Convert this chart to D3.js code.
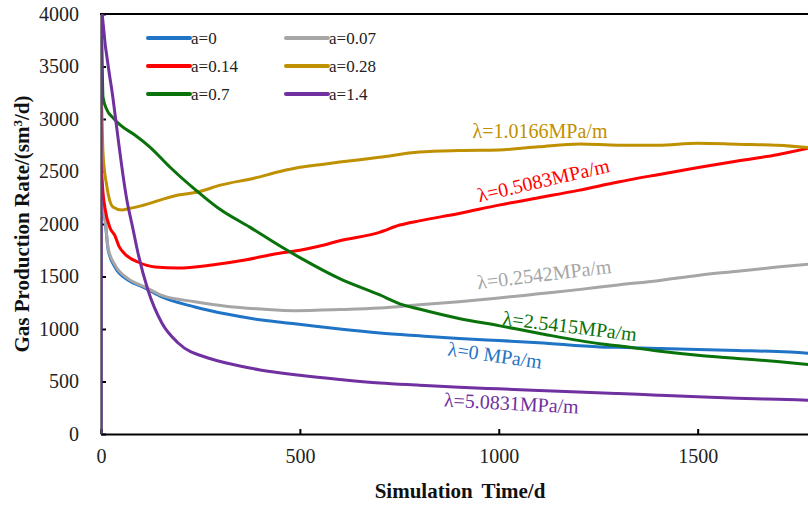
<!DOCTYPE html>
<html>
<head>
<meta charset="utf-8">
<script src="https://cdn.jsdelivr.net/npm/d3@7"></script>
<style>
  html, body { margin: 0; padding: 0; background: #fff; }
  svg { display: block; }
  text { font-family: "Liberation Serif", "Times New Roman", serif; }
</style>
</head>
<body>
<svg id="chart" width="808" height="506"></svg>
<script>
// Gas production rate (sm3/d) versus simulation time (d) for each a value
const time_a0 = [0, 5, 10, 18, 35, 68, 111, 153, 236, 319, 404, 487, 600, 701, 800, 900, 1000, 1100, 1254, 1300, 1400, 1500, 1600, 1700, 1800];
const rate_a0 = [2400, 2150, 2050, 1752, 1590, 1467, 1390, 1305, 1210, 1140, 1085, 1050, 1000, 962, 935, 910, 890, 870, 829, 825, 815, 805, 795, 785, 765];

const time_a007 = [0, 5, 10, 18, 35, 68, 111, 153, 236, 319, 404, 487, 600, 701, 800, 900, 1000, 1100, 1200, 1300, 1400, 1500, 1600, 1700, 1800];
const rate_a007 = [2300, 2150, 2050, 1770, 1610, 1480, 1400, 1320, 1260, 1215, 1190, 1175, 1185, 1200, 1230, 1260, 1295, 1335, 1375, 1420, 1460, 1510, 1550, 1590, 1625];

const time_a014 = [0, 5, 10, 23, 35, 45, 60, 93, 136, 194, 279, 362, 445, 500, 550, 600, 700, 751, 800, 900, 1000, 1100, 1200, 1300, 1400, 1505, 1600, 1700, 1800];
const rate_a014 = [2610, 2300, 2150, 1960, 1890, 1790, 1715, 1638, 1590, 1581, 1610, 1657, 1720, 1750, 1790, 1840, 1920, 1990, 2030, 2100, 2180, 2250, 2320, 2400, 2470, 2540, 2600, 2660, 2740];

const time_a028 = [0, 2, 5, 15, 30, 53, 68, 98, 194, 244, 300, 387, 450, 500, 550, 600, 700, 800, 900, 1000, 1100, 1204, 1300, 1400, 1500, 1600, 1700, 1800];
const rate_a028 = [3300, 3100, 2676, 2352, 2162, 2133, 2145, 2170, 2276, 2305, 2370, 2438, 2500, 2540, 2565, 2590, 2635, 2686, 2700, 2705, 2735, 2762, 2750, 2750, 2770, 2760, 2750, 2720];

const time_a07 = [0, 2, 5, 15, 28, 48, 85, 123, 173, 244, 299, 374, 450, 500, 600, 701, 751, 800, 900, 1003, 1100, 1254, 1300, 1400, 1500, 1600, 1700, 1800];
const rate_a07 = [3850, 3720, 3210, 3086, 3020, 2943, 2848, 2733, 2543, 2305, 2140, 1970, 1790, 1680, 1480, 1324, 1240, 1190, 1100, 1030, 960, 860, 840, 790, 750, 720, 690, 655];

const time_a14 = [0, 1, 3, 30, 65, 80, 93, 118, 153, 194, 269, 300, 374, 400, 500, 600, 701, 800, 900, 1000, 1100, 1200, 1300, 1400, 1500, 1600, 1700, 1800];
const rate_a14 = [0, 4100, 4000, 3200, 2229, 1960, 1724, 1371, 1057, 867, 724, 690, 628, 610, 560, 520, 486, 465, 445, 430, 415, 400, 385, 370, 355, 340, 330, 320];

const seriesNames = ["a=0", "a=0.07", "a=0.14", "a=0.28", "a=0.7", "a=1.4"];
const seriesColors = ["#1f74c6", "#a6a6a6", "#ff0000", "#bf9000", "#0a720a", "#7030a0"];
const seriesTimes = [time_a0, time_a007, time_a014, time_a028, time_a07, time_a14];
const seriesRates = [rate_a0, rate_a007, rate_a014, rate_a028, rate_a07, rate_a14];

const lambdaLabels = ["λ=0 MPa/m", "λ=0.2542MPa/m", "λ=0.5083MPa/m", "λ=1.0166MPa/m", "λ=2.5415MPa/m", "λ=5.0831MPa/m"];

const xTicks = [0, 500, 1000, 1500];
const yTicks = [0, 500, 1000, 1500, 2000, 2500, 3000, 3500, 4000];

const svg = d3.select("#chart");
const plotLeft = 101, plotRight = 817, plotTop = 14, plotBottom = 434;

const x = d3.scaleLinear().domain([0, 1800]).range([plotLeft, plotRight]);
const y = d3.scaleLinear().domain([0, 4000]).range([plotBottom, plotTop]);

svg.append("clipPath").attr("id", "plotClip")
  .append("rect").attr("x", plotLeft).attr("y", plotTop)
  .attr("width", 808 - plotLeft).attr("height", plotBottom - plotTop);

// Axes with inward ticks
const xAxis = svg.append("g").attr("transform", `translate(0,${plotBottom})`)
  .call(d3.axisBottom(x).tickValues(xTicks).tickSizeInner(-5).tickSizeOuter(0).tickPadding(15).tickFormat(d3.format("d")));
xAxis.select(".domain").attr("stroke", "#000").attr("stroke-width", 2);
xAxis.selectAll(".tick line").attr("stroke", "#000").attr("stroke-width", 2);
xAxis.selectAll("text").attr("font-size", 20).attr("fill", "#222")
  .attr("font-family", "Liberation Serif, serif");

const yAxis = svg.append("g").attr("transform", `translate(${plotLeft},0)`)
  .call(d3.axisLeft(y).tickValues(yTicks).tickSizeInner(-5).tickSizeOuter(0).tickPadding(22).tickFormat(d3.format("d")));
yAxis.select(".domain").attr("stroke", "#000").attr("stroke-width", 2);
yAxis.selectAll(".tick line").attr("stroke", "#000").attr("stroke-width", 2);
yAxis.selectAll("text").attr("font-size", 20).attr("fill", "#222")
  .attr("font-family", "Liberation Serif, serif");

// Top frame line
svg.append("line").attr("x1", plotLeft - 1).attr("x2", 808).attr("y1", plotTop).attr("y2", plotTop)
  .attr("stroke", "#000").attr("stroke-width", 2);

// Curves
const line = d3.line().x(d => x(d[0])).y(d => y(d[1])).curve(d3.curveMonotoneX);
const plot = svg.append("g").attr("clip-path", "url(#plotClip)");
seriesNames.forEach((name, i) => {
  const pts = seriesTimes[i].map((t, j) => [t, seriesRates[i][j]]);
  plot.append("path").datum(pts)
    .attr("fill", "none").attr("stroke", seriesColors[i])
    .attr("stroke-width", 3).attr("stroke-linejoin", "round").attr("stroke-linecap", "round")
    .attr("d", line);
});

// Legend: two columns, three rows
const legend = svg.append("g");
seriesNames.forEach((name, i) => {
  const col = i % 2, row = Math.floor(i / 2);
  const lx = col === 0 ? 148 : 286;
  const ly = 38 + row * 28;
  legend.append("line").attr("x1", lx).attr("x2", lx + 42).attr("y1", ly).attr("y2", ly)
    .attr("stroke", seriesColors[i]).attr("stroke-width", 4).attr("stroke-linecap", "round");
  legend.append("text").attr("x", lx + 43).attr("y", ly + 6)
    .attr("font-size", 17).attr("fill", "#222").text(name);
});

// Curve annotations (centre x, baseline y, rotation)
const labelPos = [[494, 362, 8], [545, 281, -7], [545, 187, -13], [540, 138, 0], [569, 333, 7], [511, 410, 3]];
lambdaLabels.forEach((txt, i) => {
  const [cx, cy, rot] = labelPos[i];
  svg.append("text").attr("transform", `translate(${cx},${cy}) rotate(${rot})`)
    .attr("text-anchor", "middle").attr("font-size", 20)
    .attr("fill", seriesColors[i]).text(txt);
});

// Axis titles
svg.append("text").attr("x", 460).attr("y", 498).attr("text-anchor", "middle")
  .attr("font-size", 21).attr("font-weight", "bold").attr("fill", "#111")
  .attr("word-spacing", 4).text("Simulation Time/d");

const yTitle = svg.append("text").attr("transform", "translate(29,224) rotate(-90)")
  .attr("text-anchor", "middle").attr("font-size", 21).attr("font-weight", "bold").attr("fill", "#111");
yTitle.append("tspan").text("Gas Production Rate/(sm");
yTitle.append("tspan").attr("baseline-shift", "super").attr("font-size", 13).text("3");
yTitle.append("tspan").text("/d)");
</script>
</body>
</html>
